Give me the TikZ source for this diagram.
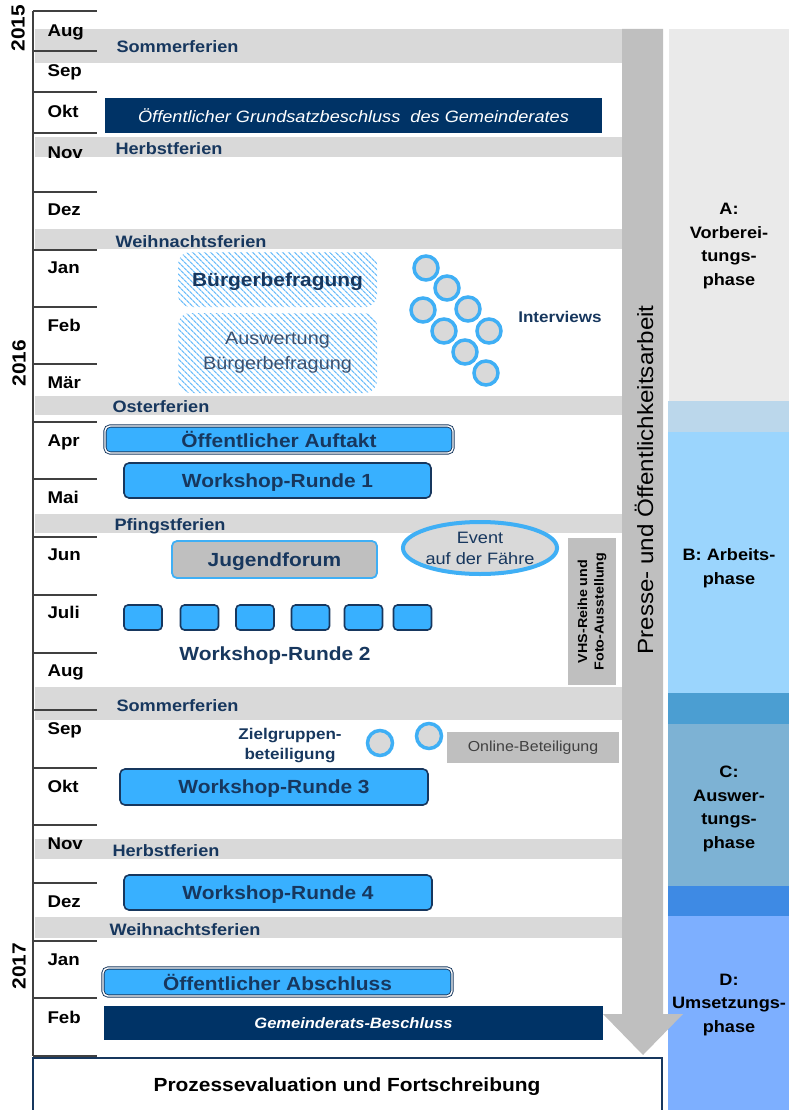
\documentclass[tikz,border=0pt]{standalone}
\usepackage{fontspec}
\setmainfont{Liberation Sans}[FakeStretch=1.1]
\usepackage{tikz}
\usetikzlibrary{patterns.meta,shapes.geometric}

\definecolor{darknavy}{RGB}{0,51,102}
\definecolor{dkblue}{RGB}{23,55,94}
\definecolor{txtgray}{RGB}{60,80,110}
\definecolor{wsblue}{RGB}{56,176,255}
\definecolor{ringblue}{RGB}{63,175,245}
\definecolor{hatchblue}{RGB}{110,190,250}
\definecolor{band}{RGB}{217,217,217}
\definecolor{arrowgray}{RGB}{191,191,191}
\definecolor{tickgray}{RGB}{64,64,64}
\definecolor{phaseA}{RGB}{234,234,234}
\definecolor{phaseAB}{RGB}{187,215,235}
\definecolor{phaseB}{RGB}{155,213,253}
\definecolor{phaseBC}{RGB}{75,158,210}
\definecolor{phaseC}{RGB}{125,178,212}
\definecolor{phaseCD}{RGB}{62,138,228}
\definecolor{phaseD}{RGB}{125,175,255}

\begin{document}
\begin{tikzpicture}[x=1pt,y=-1pt, % pixel grid, y downwards
	month/.style={anchor=mid west,yshift=-4pt,font=\bfseries\fontsize{17}{20}\selectfont},
	year/.style={rotate=90,font=\bfseries\fontsize{19}{22}\selectfont},
	ferien/.style={anchor=mid west,yshift=-4pt,text=dkblue,font=\bfseries\fontsize{16.5}{20}\selectfont},
	tick/.style={draw=tickgray,line width=1.5pt},
	beschluss/.style={fill=darknavy,text=white,inner sep=0pt},
	workshop/.style={draw=dkblue,line width=1.6pt,fill=wsblue,rounded corners=5pt,text depth=0pt,
		text=dkblue,inner sep=0pt,font=\bfseries\fontsize{19}{23}\selectfont},
	wsbox/.style={draw=dkblue,line width=1.6pt,fill=wsblue,rounded corners=4pt,
		minimum width=38pt,minimum height=25pt,inner sep=0pt},
	public/.style={draw=dkblue,double=white,double distance=1.4pt,line width=0.9pt,text depth=0pt,
		fill=wsblue,rounded corners=5pt,text=dkblue,inner sep=0pt,
		font=\bfseries\fontsize{19}{23}\selectfont},
	hatched/.style={pattern={Lines[angle=-45,distance=4pt,line width=1.3pt]},
		pattern color=hatchblue,rounded corners=12pt,inner sep=0pt,align=center},
	interview/.style={circle,fill=band,draw=ringblue,line width=3.5pt,minimum size=24pt,inner sep=0pt},
	graybox/.style={fill=arrowgray,inner sep=0pt},
	label/.style={text=dkblue,align=center},
	phase/.style={align=center,yshift=-3pt,font=\bfseries\fontsize{16.5}{23.5}\selectfont}]

	\useasboundingbox (0,0) rectangle (789,1110);

	% phase column
	\fill[phaseA]  (669,29)  rectangle (789,401);
	\fill[phaseAB] (668,401) rectangle (789,432);
	\fill[phaseB]  (668,432) rectangle (789,693);
	\fill[phaseBC] (668,693) rectangle (789,724);
	\fill[phaseC]  (668,724) rectangle (789,886);
	\fill[phaseCD] (668,886) rectangle (789,916);
	\fill[phaseD]  (668,916) rectangle (789,1110);

	% holidays
	\foreach \ya/\yb in {29/63, 137/157, 229/249, 396/415, 514/533, 687/720, 839/859, 917/938}
		\fill[band] (35,\ya) rectangle (622,\yb);
	\node[ferien] (f1) at (113,46)  {Sommerferien};
	\node[ferien] (f2) at (112,148) {Herbstferien};
	\node[ferien] (f3) at (112,241) {Weihnachtsferien};
	\node[ferien] (f4) at (109,406) {Osterferien};
	\node[ferien] (f5) at (111,524) {Pfingstferien};
	\node[ferien] (f6) at (113,705) {Sommerferien};
	\node[ferien] (f7) at (109,850) {Herbstferien};
	\node[ferien] (f8) at (106,929) {Weihnachtsferien};

	% time axis
	\draw[tick] (33,11) -- (33,1056);
	\foreach \y in {11,51,92,133,192,250,307,364,422,479,537,595,653,710,768,825,883,941,998,1056}
		\draw[tick] (33,\y) -- (97,\y);
	\foreach \m/\y [count=\i] in {Aug/30, Sep/70, Okt/111, Nov/152, Dez/209, Jan/267, Feb/325,
		Mär/382, Apr/440, Mai/497, Jun/554, Juli/612, Aug/670, Sep/728, Okt/786,
		Nov/843, Dez/901, Jan/959, Feb/1017}
		\node[month] (mon\i) at (44,\y) {\m};
	\node[year] (y2015) at (18,28)  {2015};
	\node[year] (y2016) at (19,363) {2016};
	\node[year] (y2017) at (19,966) {2017};

	% Presse- und Oeffentlichkeitsarbeit
	\fill[arrowgray] (622,29) -- (663,29) -- (663,1014) -- (683,1014) -- (643,1055)
		-- (603,1014) -- (622,1014) -- cycle;
	\node[rotate=90,font=\fontsize{22}{26}\selectfont] (presse) at (644,480) {Presse- und Öffentlichkeitsarbeit};

	% events
	\node[beschluss,minimum width=497pt,minimum height=35pt,font=\itshape\fontsize{16.5}{19}\selectfont]
		(grund) at (353.5,115.5) {Öffentlicher Grundsatzbeschluss\ \ des Gemeinderates};
	\node[hatched,minimum width=199pt,minimum height=55pt,text=dkblue,text depth=0pt,
		font=\bfseries\fontsize{19}{23}\selectfont] (bb) at (277.5,279.5) {Bürgerbefragung};
	\node[hatched,minimum width=199pt,minimum height=80pt,text=txtgray,font=\fontsize{18}{25}\selectfont]
		(abb) at (277.5,353) {Auswertung\\Bürgerbefragung};
	\foreach \x/\y [count=\i] in {426/268, 447/288, 423/310, 468/309, 444/331, 489/331, 465/352, 486/373}
		\node[interview] (iv\i) at (\x,\y) {};
	\node[label,font=\bfseries\fontsize{15.5}{19}\selectfont] (interv) at (560,317) {Interviews};

	\node[public,minimum width=348pt,minimum height=27pt] (auftakt) at (279,439.5) {Öffentlicher\ Auftakt};
	\node[workshop,minimum width=307pt,minimum height=35pt] (wr1) at (277.5,480.5) {Workshop-Runde 1};

	\node[draw=ringblue,line width=1.8pt,fill=arrowgray,rounded corners=5pt,minimum width=205pt,
		minimum height=37pt,inner sep=0pt,text=dkblue,text depth=0pt,font=\bfseries\fontsize{19}{23}\selectfont]
		(jugend) at (274.5,559.5) {Jugendforum};
	\node[ellipse,fill=band,draw=ringblue,line width=4pt,minimum width=146pt,minimum height=52pt,
		inner sep=0pt,label,font=\fontsize{16.5}{21}\selectfont] (event) at (480,548) {Event\\auf der Fähre};
	\node[graybox,rotate=90,minimum width=147pt,minimum height=48pt,align=center,
		font=\bfseries\fontsize{13}{16.5}\selectfont] (vhs) at (592,611.5) {VHS-Reihe und\\Foto-Ausstellung};

	\foreach \x [count=\i] in {143,199.5,255,310.5,363.5,412.5}
		\node[wsbox] (ws\i) at (\x,617.5) {};
	\node[label,font=\bfseries\fontsize{19}{23}\selectfont] (wr2) at (275,656) {Workshop-Runde 2};

	\node[label,font=\bfseries\fontsize{15.5}{20}\selectfont] (ziel) at (290,746) {Zielgruppen-\\beteiligung};
	\node[interview,minimum size=25pt] (zc1) at (380,743) {};
	\node[interview,minimum size=25pt] (zc2) at (429,736) {};
	\node[graybox,minimum width=172pt,minimum height=31pt,text=tickgray,font=\fontsize{14.5}{18}\selectfont]
		(online) at (533,747.5) {Online-Beteiligung};

	\node[workshop,minimum width=308pt,minimum height=36pt] (wr3) at (274,787) {Workshop-Runde 3};
	\node[workshop,minimum width=308pt,minimum height=35pt] (wr4) at (278,892.5) {Workshop-Runde 4};
	\node[public,minimum width=349pt,minimum height=28pt] (abschl) at (277.5,982) {Öffentlicher\ Abschluss};
	\node[beschluss,minimum width=499pt,minimum height=34pt,font=\bfseries\itshape\fontsize{15}{18}\selectfont]
		(gr2) at (353.5,1023) {Gemeinderats-Beschluss};

	\node[draw=dkblue,line width=2.6pt,fill=white,minimum width=629pt,minimum height=60pt,inner sep=0pt]
		(proz) at (347.5,1088) {};
	\node[font=\bfseries\fontsize{19}{23}\selectfont] (prozt) at (347,1087) {Prozessevaluation und Fortschreibung};

	% phases
	\node[phase] (pa) at (729,243)  {A:\\Vorberei-\\tungs-\\phase};
	\node[phase] (pb) at (729,565)  {B: Arbeits-\\phase};
	\node[phase] (pc) at (729,806)  {C:\\Auswer-\\tungs-\\phase};
	\node[phase] (pd) at (729,1002) {D:\\Umsetzungs-\\phase};

\end{tikzpicture}
\end{document}
